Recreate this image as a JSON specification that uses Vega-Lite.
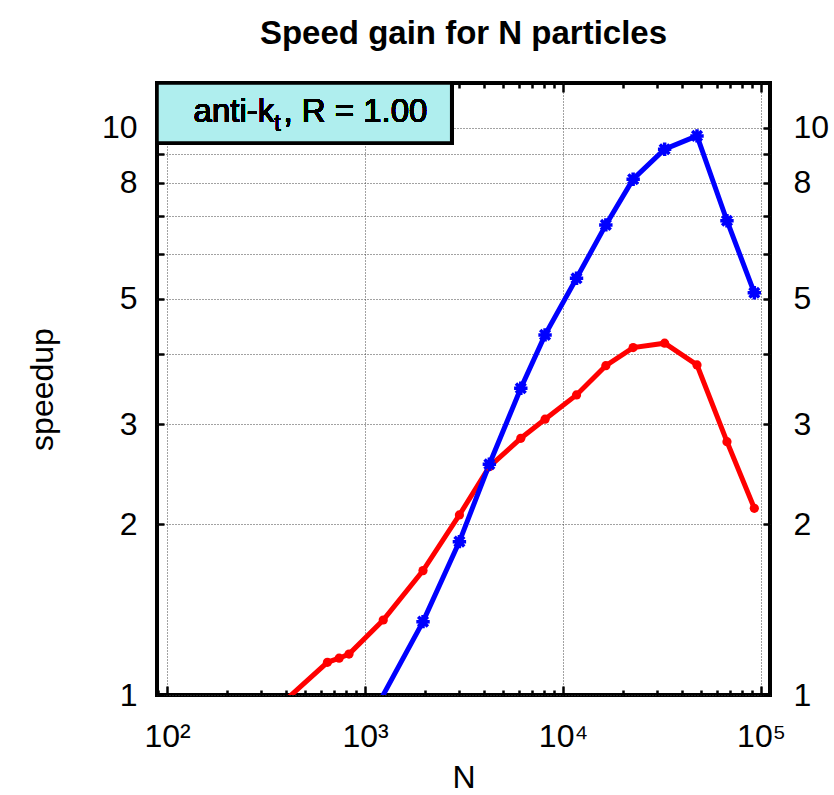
{
  "$schema": "https://vega.github.io/schema/vega-lite/v6.json",
  "width": 613,
  "height": 612,
  "autosize": {"type": "none"},
  "padding": {"left": 157, "top": 83, "right": 64, "bottom": 100},
  "background": "white",
  "title": {
    "text": "Speed gain for N particles",
    "font": "Liberation Sans",
    "fontSize": 33,
    "fontWeight": "bold",
    "anchor": "middle",
    "baseline": "alphabetic",
    "offset": 4,
    "color": "black"
  },
  "config": {
    "view": {"stroke": "black", "strokeWidth": 4},
    "axis": {
      "labelFont": "Liberation Sans",
      "titleFont": "Liberation Sans",
      "labelFontSize": 32,
      "titleFontSize": 32,
      "titleFontWeight": "normal",
      "labelColor": "black",
      "titleColor": "black",
      "domain": false,
      "tickColor": "black",
      "tickWidth": 2.5,
      "gridColor": "#444444",
      "gridDash": [1, 2],
      "gridWidth": 1,
      "labelOverlap": false,
      "labelFlush": false
    }
  },
  "datasets": {
    "curves": [
      {"N": 293, "speedup": 0.89, "series": "s1"},
      {"N": 646, "speedup": 1.142, "series": "s1"},
      {"N": 740, "speedup": 1.161, "series": "s1"},
      {"N": 830, "speedup": 1.181, "series": "s1"},
      {"N": 1236, "speedup": 1.356, "series": "s1"},
      {"N": 1963, "speedup": 1.657, "series": "s1"},
      {"N": 2997, "speedup": 2.077, "series": "s1"},
      {"N": 4246, "speedup": 2.527, "series": "s1"},
      {"N": 6120, "speedup": 2.836, "series": "s1"},
      {"N": 8115, "speedup": 3.064, "series": "s1"},
      {"N": 11700, "speedup": 3.381, "series": "s1"},
      {"N": 16450, "speedup": 3.808, "series": "s1"},
      {"N": 22600, "speedup": 4.098, "series": "s1"},
      {"N": 32600, "speedup": 4.172, "series": "s1"},
      {"N": 47500, "speedup": 3.819, "series": "s1"},
      {"N": 67300, "speedup": 2.797, "series": "s1"},
      {"N": 92500, "speedup": 2.134, "series": "s1"},
      {"N": 1000, "speedup": 0.873, "series": "s2"},
      {"N": 1963, "speedup": 1.347, "series": "s2"},
      {"N": 2997, "speedup": 1.864, "series": "s2"},
      {"N": 4246, "speedup": 2.552, "series": "s2"},
      {"N": 6120, "speedup": 3.475, "series": "s2"},
      {"N": 8115, "speedup": 4.315, "series": "s2"},
      {"N": 11700, "speedup": 5.43, "series": "s2"},
      {"N": 16450, "speedup": 6.745, "series": "s2"},
      {"N": 22600, "speedup": 8.12, "series": "s2"},
      {"N": 32600, "speedup": 9.17, "series": "s2"},
      {"N": 47500, "speedup": 9.68, "series": "s2"},
      {"N": 67300, "speedup": 6.86, "series": "s2"},
      {"N": 92500, "speedup": 5.12, "series": "s2"}
    ]
  },
  "data": {"name": "curves"},
  "encoding": {
    "x": {
      "field": "N",
      "type": "quantitative",
      "scale": {"type": "log", "domain": [89, 111000], "nice": false},
      "axis": null
    },
    "y": {
      "field": "speedup",
      "type": "quantitative",
      "scale": {"type": "log", "domain": [1, 12], "nice": false},
      "axis": null
    }
  },
  "layer": [
    {
      "mark": {"type": "line", "clip": true, "strokeWidth": 5},
      "encoding": {
        "color": {
          "field": "series",
          "type": "nominal",
          "scale": {"domain": ["s1", "s2"], "range": ["#ff0000", "#0000ff"]},
          "legend": null
        },
        "x": {
          "field": "N",
          "type": "quantitative",
          "title": "N",
          "axis": {
            "orient": "bottom",
            "values": [90, 100, 200, 300, 400, 500, 600, 700, 800, 900, 1000, 2000, 3000, 4000, 5000, 6000, 7000, 8000, 9000, 10000, 20000, 30000, 40000, 50000, 60000, 70000, 80000, 90000, 100000],
            "labelExpr": "datum.value == 100 ? '10²' : datum.value == 1000 ? '10³' : datum.value == 10000 ? '10⁴' : datum.value == 100000 ? '10⁵' : ''",
            "tickSize": {"condition": {"test": "indexof([100,1000,10000,100000], datum.value) >= 0", "value": -9}, "value": -5},
            "gridOpacity": {"condition": {"test": "indexof([100,1000,10000,100000], datum.value) >= 0", "value": 1}, "value": 0},
            "grid": true,
            "labelPadding": 35,
            "titlePadding": 6
          }
        },
        "y": {
          "field": "speedup",
          "type": "quantitative",
          "title": "speedup",
          "axis": {
            "orient": "left",
            "values": [1, 2, 3, 4, 5, 6, 7, 8, 9, 10],
            "labelExpr": "indexof([1,2,3,5,8,10], datum.value) >= 0 ? '' + datum.value : ''",
            "tickSize": -7,
            "grid": true,
            "labelPadding": 27,
            "titlePadding": 42
          }
        }
      }
    },
    {
      "transform": [{"filter": "datum.series == 's1'"}],
      "mark": {"type": "point", "clip": true, "filled": true, "shape": "circle", "size": 85, "color": "#ff0000", "opacity": 1},
      "encoding": {
        "x": {
          "field": "N",
          "type": "quantitative",
          "axis": {
            "orient": "top",
            "values": [100, 200, 300, 400, 500, 600, 700, 800, 900, 1000, 2000, 3000, 4000, 5000, 6000, 7000, 8000, 9000, 10000, 20000, 30000, 40000, 50000, 60000, 70000, 80000, 90000, 100000],
            "labels": false,
            "title": null,
            "grid": false,
            "tickSize": {"condition": {"test": "indexof([100,1000,10000,100000], datum.value) >= 0", "value": -9}, "value": -5}
          }
        },
        "y": {
          "field": "speedup",
          "type": "quantitative",
          "axis": {
            "orient": "right",
            "values": [1, 2, 3, 4, 5, 6, 7, 8, 9, 10],
            "labelExpr": "indexof([1,2,3,5,8,10], datum.value) >= 0 ? '' + datum.value : ''",
            "tickSize": -7,
            "grid": false,
            "title": null,
            "labelPadding": 30
          }
        }
      }
    },
    {
      "transform": [{"filter": "datum.series == 's2'"}],
      "mark": {
        "type": "point",
        "clip": true,
        "filled": false,
        "shape": "M-1,0L1,0M0,-1L0,1M-0.72,-0.72L0.72,0.72M-0.72,0.72L0.72,-0.72",
        "size": 180,
        "stroke": "#0000ff",
        "strokeWidth": 3.5,
        "opacity": 1
      }
    },
    {
      "mark": {"type": "rect", "fill": "#afeeee", "stroke": "black", "strokeWidth": 3.5},
      "encoding": {
        "x": {"datum": 89, "axis": null},
        "x2": {"datum": 2740},
        "y": {"datum": 9.41, "axis": null},
        "y2": {"datum": 12}
      }
    },
    {
      "mark": {"type": "text", "text": "anti-k", "align": "right", "baseline": "alphabetic", "font": "Liberation Sans", "fontSize": 33, "color": "black"},
      "encoding": {"x": {"datum": 348, "axis": null}, "y": {"datum": 10.25, "axis": null}}
    },
    {
      "mark": {"type": "text", "text": "t", "align": "left", "baseline": "alphabetic", "font": "Liberation Sans", "fontSize": 23, "dy": 9, "color": "black"},
      "encoding": {"x": {"datum": 348, "axis": null}, "y": {"datum": 10.25, "axis": null}}
    },
    {
      "mark": {"type": "text", "text": ", R = 1.00", "align": "left", "baseline": "alphabetic", "font": "Liberation Sans", "fontSize": 33, "color": "black"},
      "encoding": {"x": {"datum": 387, "axis": null}, "y": {"datum": 10.25, "axis": null}}
    }
  ],
  "resolve": {"axis": {"x": "independent", "y": "independent"}}
}
